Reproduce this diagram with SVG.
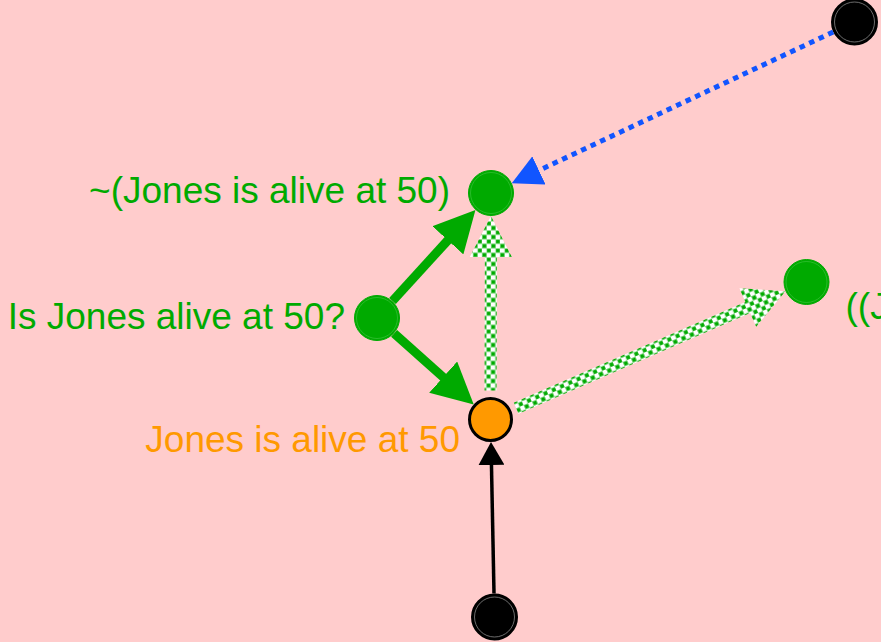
<svg xmlns="http://www.w3.org/2000/svg" width="881" height="642" viewBox="0 0 881 642">
<style>
.lbl{font-family:"Liberation Sans",Arial,sans-serif;font-size:37px}
.g{fill:#00AA00}
.o{fill:#FF9900}
.gn{fill:#00AA00;stroke:#00AA00;stroke-width:1}
.ring{fill:none;stroke:#55CC55;stroke-width:0.8;stroke-opacity:0.6}
.bn{fill:#000;stroke:#000;stroke-width:3}
.bring{fill:none;stroke:#888;stroke-width:0.8}
.pat{fill:url(#dots)}
</style>
<defs>
<pattern id="dots" patternUnits="userSpaceOnUse" width="9" height="9">
<rect width="9" height="9" fill="#fff"/>
<rect x="0.5" y="0.5" width="4" height="4" fill="#00AA00" stroke="#55C855" stroke-width="0.6"/>
<rect x="5" y="5" width="4" height="4" fill="#00AA00" stroke="#55C855" stroke-width="0.6"/>
</pattern>
<marker id="gh" markerUnits="userSpaceOnUse" viewBox="0 0 41 42" markerWidth="41" markerHeight="42" refX="5" refY="21" orient="auto"><path d="M0,0 L41,21 L0,42 Z" fill="#00AA00"/></marker>
<marker id="bh" markerUnits="userSpaceOnUse" viewBox="0 0 30 31" markerWidth="30" markerHeight="31" refX="4" refY="15.5" orient="auto"><path d="M0,0 L30,15.5 L0,31 Z" fill="#1155FF"/></marker>
<marker id="kh" markerUnits="userSpaceOnUse" viewBox="0 0 23 26" markerWidth="23" markerHeight="26" refX="3" refY="13" orient="auto"><path d="M0,0 L23,13 L0,26 Z" fill="#000"/></marker>
</defs>
<rect width="881" height="642" fill="#FFCCCC"/>
<g id="n-top"><circle class="bn" cx="854.5" cy="22" r="22"/><circle class="bring" cx="854.5" cy="22" r="20"/></g>
<g id="n-not"><circle class="gn" cx="491" cy="193" r="22.5"/><circle class="ring" cx="491" cy="193" r="20.5"/><text class="lbl g" x="450" y="203" text-anchor="end">~(Jones is alive at 50)</text></g>
<g id="n-q"><circle class="gn" cx="377" cy="318" r="22.5"/><circle class="ring" cx="377" cy="318" r="20.5"/><text class="lbl g" x="345" y="329" text-anchor="end">Is Jones alive at 50?</text></g>
<g id="n-p"><circle cx="490.5" cy="419.5" r="21" fill="#FF9900" stroke="#000" stroke-width="3"/><text class="lbl o" x="460" y="452" text-anchor="end">Jones is alive at 50</text></g>
<g id="n-or"><circle class="gn" cx="806.5" cy="282" r="22.5"/><circle class="ring" cx="806.5" cy="282" r="20.5"/><text class="lbl g" x="845.5" y="319">((Jones is alive at 50)</text></g>
<g id="n-bot"><circle class="bn" cx="494.5" cy="617" r="22"/><circle class="bring" cx="494.5" cy="617" r="20"/></g>
<g id="connectors">
<line x1="833.2" y1="32" x2="535.3" y2="172.1" stroke="#1155FF" stroke-width="5" stroke-dasharray="5.5 5" marker-end="url(#bh)"/>
<line x1="392.5" y1="301" x2="451.2" y2="236.6" stroke="#00AA00" stroke-width="9" marker-end="url(#gh)"/>
<line x1="394.1" y1="333.3" x2="446.9" y2="380.5" stroke="#00AA00" stroke-width="9" marker-end="url(#gh)"/>
<line x1="494" y1="593.5" x2="491.4" y2="462" stroke="#000" stroke-width="3.5" marker-end="url(#kh)"/>
<g transform="translate(490.5,419.5) rotate(-89.87)"><path class="pat" d="M29,-6 L162.5,-6 L162.5,-21 L203.5,0 L162.5,21 L162.5,6 L29,6 Z"/></g>
<g transform="translate(490.5,419.5) rotate(-23.51)"><path class="pat" d="M28,-6 L280.6,-6 L280.6,-21 L321.6,0 L280.6,21 L280.6,6 L28,6 Z"/></g>
</g>
</svg>
